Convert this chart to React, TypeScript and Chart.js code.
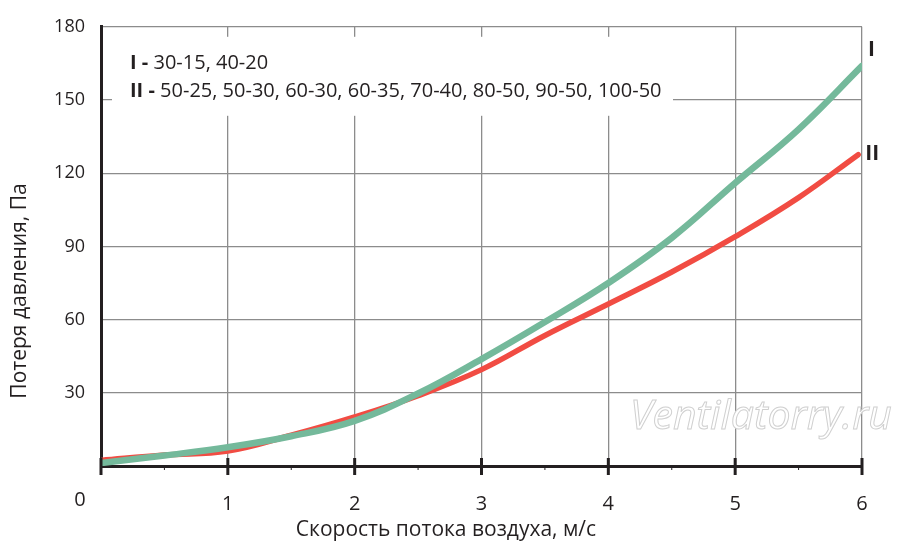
import React, { useEffect, useRef } from 'react';
import { Chart, registerables } from 'chart.js';

Chart.register(...registerables);

// Data
const speedI = [0, 0.5, 1, 1.5, 2, 2.5, 3, 3.5, 4, 4.5, 5, 5.5, 6];
const lossI = [1.2, 4.3, 7.7, 12.2, 18.5, 29.7, 43.8, 59, 75, 93.5, 116, 138, 164];
const speedII = [0, 0.5, 1, 1.5, 2, 2.5, 3, 3.5, 4, 4.5, 5, 5.5, 5.97];
const lossII = [2.3, 4.5, 6.1, 12.6, 20.1, 28.8, 39.5, 53.5, 66.4, 79.5, 94, 110, 127.6];
const seriesNames = ['I', 'II'];
const legendKeys = ['I - ', 'II - '];
const legendValues = ['30-15, 40-20', '50-25, 50-30, 60-30, 60-35, 70-40, 80-50, 90-50, 100-50'];
const xTitle = 'Скорость потока воздуха, м/с';
const yTitle = 'Потеря давления, Па';
const watermark = 'Ventilatorry.ru';
const xMin = 0, xMax = 6, xStep = 1;
const yMin = 0, yMax = 180, yStep = 30;
const originLabel = '0';

const TEXT = '#231f20';
const GRID = '#8c8c8c';
const GREEN = '#74b99b';
const RED = '#f14c43';
const FONT = '"Open Sans", "Noto Sans", sans-serif';

const decorPlugin = {
  id: 'decor',
  beforeDatasetsDraw(chart: any) {
    const { ctx, chartArea } = chart;
    ctx.save();
    // legend box (white background)
    ctx.fillStyle = '#ffffff';
    ctx.fillRect(chartArea.left + 11, chartArea.top + 10, 561, 79);
    ctx.textBaseline = 'alphabetic';
    ctx.textAlign = 'left';
    const lx = chartArea.left + 29;
    const ly = [chartArea.top + 42, chartArea.top + 70];
    legendKeys.forEach((k, i) => {
      ctx.font = `bold 20px ${FONT}`;
      ctx.fillStyle = TEXT;
      ctx.fillText(k, lx, ly[i]);
      const w = ctx.measureText(k).width;
      ctx.font = `20px ${FONT}`;
      ctx.fillText(legendValues[i], lx + w, ly[i]);
    });
    // watermark
    ctx.font = `italic 41px ${FONT}`;
    ctx.textAlign = 'left';
    ctx.fillStyle = '#ffffff';
    ctx.strokeStyle = '#d0d0d0';
    ctx.lineWidth = 1;
    ctx.fillText(watermark, 630, 429);
    ctx.strokeText(watermark, 630, 429);
    ctx.restore();
  },
  afterDatasetsDraw(chart: any) {
    const { ctx, scales } = chart;
    const x = scales.x, y = scales.y;
    ctx.save();
    const axisY = y.getPixelForValue(yMin);
    // major ticks
    ctx.strokeStyle = TEXT;
    ctx.lineWidth = 3;
    for (let v = xMin; v <= xMax; v += xStep) {
      const px = x.getPixelForValue(v);
      ctx.beginPath();
      ctx.moveTo(px, axisY - 8);
      ctx.lineTo(px, axisY + 9);
      ctx.stroke();
    }
    // minor ticks
    ctx.lineWidth = 1;
    for (let v = xMin + xStep / 2; v < xMax; v += xStep) {
      const px = x.getPixelForValue(v);
      ctx.beginPath();
      ctx.moveTo(px, axisY);
      ctx.lineTo(px, axisY + 4);
      ctx.stroke();
    }
    // origin label
    ctx.fillStyle = TEXT;
    ctx.font = `20px ${FONT}`;
    ctx.textAlign = 'center';
    ctx.textBaseline = 'middle';
    ctx.fillText(originLabel, x.getPixelForValue(xMin) - 21, axisY + 34);
    // axis titles
    ctx.font = `21px ${FONT}`;
    ctx.fillText(xTitle, 446, 530);
    ctx.save();
    ctx.translate(20, 291);
    ctx.rotate(-Math.PI / 2);
    ctx.fillText(yTitle, 0, 0);
    ctx.restore();
    // series labels
    ctx.font = `bold 21px ${FONT}`;
    ctx.textAlign = 'left';
    const metaI = chart.getDatasetMeta(0).data;
    const metaII = chart.getDatasetMeta(1).data;
    const endI = metaI[metaI.length - 1];
    const endII = metaII[metaII.length - 1];
    ctx.fillText(seriesNames[0], endI.x + 6, endI.y - 16);
    ctx.fillText(seriesNames[1], endII.x + 7, endII.y - 1);
    ctx.restore();
  },
};

export default function App() {
  const ref = useRef<HTMLCanvasElement | null>(null);
  useEffect(() => {
    document.body.style.margin = '0';
    const canvas = ref.current;
    if (!canvas) return;
    const chart = new Chart(canvas, {
      type: 'line',
      data: {
        datasets: [
          {
            label: seriesNames[0],
            data: speedI.map((v, i) => ({ x: v, y: lossI[i] })),
            borderColor: GREEN,
            borderWidth: 6.5,
            borderCapStyle: 'round',
            pointRadius: 0,
            tension: 0.4,
            fill: false,
          },
          {
            label: seriesNames[1],
            data: speedII.map((v, i) => ({ x: v, y: lossII[i] })),
            borderColor: RED,
            borderWidth: 5.5,
            borderCapStyle: 'round',
            pointRadius: 0,
            tension: 0.4,
            fill: false,
          },
        ],
      },
      options: {
        animation: false,
        responsive: false,
        layout: { padding: { top: 25, right: 38, left: 0, bottom: 0 } },
        plugins: { legend: { display: false }, tooltip: { enabled: false } },
        scales: {
          x: {
            type: 'linear',
            min: xMin,
            max: xMax,
            afterFit: (s: any) => { s.height = 87; },
            grid: { color: GRID, lineWidth: 1.3, drawTicks: false },
            border: { color: TEXT, width: 3 },
            ticks: {
              stepSize: xStep,
              padding: 26,
              color: TEXT,
              font: { family: FONT, size: 20 },
              callback: (v: any) => (v === xMin ? '' : String(v)),
            },
          },
          y: {
            type: 'linear',
            min: yMin,
            max: yMax,
            afterFit: (s: any) => { s.width = 101; },
            grid: { color: GRID, lineWidth: 1.3, drawTicks: false },
            border: { color: TEXT, width: 3 },
            ticks: {
              stepSize: yStep,
              padding: 16,
              color: TEXT,
              font: { family: FONT, size: 18 },
              callback: (v: any) => (v === yMin ? '' : String(v)),
            },
          },
        },
      },
      plugins: [decorPlugin],
    });
    return () => chart.destroy();
  }, []);
  return (
    <div style={{ width: 900, height: 553, background: '#fff' }}>
      <canvas ref={ref} width={900} height={553} style={{ width: 900, height: 553, display: 'block' }} />
    </div>
  );
}
